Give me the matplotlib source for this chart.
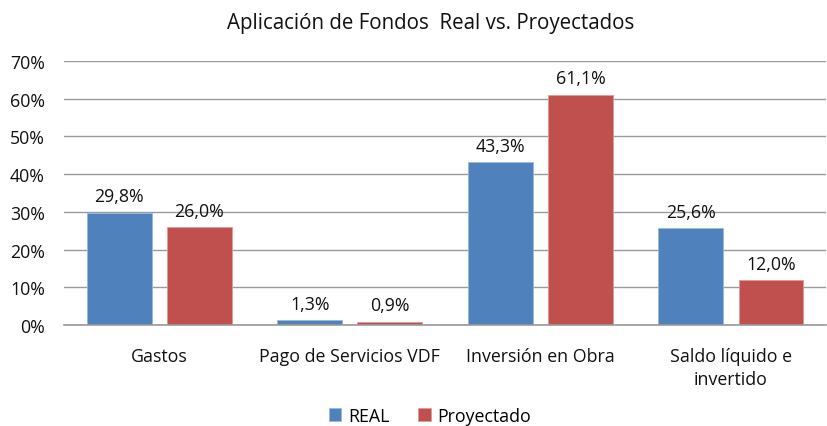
import matplotlib.pyplot as plt
import numpy as np

plt.rcParams['font.family'] = ['Open Sans', 'DejaVu Sans']

categorias = ["Gastos", "Pago de Servicios VDF", "Inversión en Obra", "Saldo líquido e\ninvertido"]
real = [29.8, 1.3, 43.3, 25.6]
proyectado = [26.0, 0.9, 61.1, 12.0]
etiquetas_y = ["0%", "10%", "20%", "30%", "40%", "50%", "60%", "70%"]

azul = "#4F81BD"
rojo = "#C0504D"

fig = plt.figure(figsize=(8.27, 4.27), dpi=100)
ax = fig.add_axes([0.0774, 0.2365, 0.9216, 0.6183])

x = np.arange(len(categorias))
ancho = 0.34
b1 = ax.bar(x - 0.21, real, ancho, color=azul, edgecolor="#9db7dc", linewidth=0.6, label="REAL", zorder=3)
b2 = ax.bar(x + 0.21, proyectado, ancho, color=rojo, edgecolor="#dc9b99", linewidth=0.6, label="Proyectado", zorder=3)

for barras in (b1, b2):
    for b in barras:
        v = b.get_height()
        ax.text(b.get_x() + b.get_width() / 2, v + 1.9, ("%.1f%%" % v).replace(".", ","),
                ha="center", va="bottom", fontsize=12.8, color="#111111")

ax.set_xlim(-0.5, 3.5)
ax.set_ylim(0, 70)
ax.set_yticks(range(0, 71, 10))
ax.set_yticklabels(etiquetas_y)
ax.set_xticks(x)
ax.set_xticklabels(categorias, linespacing=1.35)
ax.tick_params(axis="both", length=0, labelsize=12.8, colors="#111111")
ax.tick_params(axis="x", pad=16)
ax.tick_params(axis="y", pad=13.7)
ax.yaxis.grid(True, color="#9a9a9a", linewidth=1.0, zorder=0)
for s in ["top", "right", "left"]:
    ax.spines[s].set_visible(False)
ax.spines["bottom"].set_color("#9a9a9a")
ax.spines["bottom"].set_linewidth(1.2)
ax.spines["bottom"].set_zorder(4)

fig.text(0.521, 0.945, "Aplicación de Fondos  Real vs. Proyectados", ha="center", va="center",
         fontsize=14.8, color="#111111")

fig.legend(handles=[b1, b2], loc="center", bbox_to_anchor=(0.52, 0.024), ncol=2, frameon=False,
           fontsize=12.8, handlelength=0.7, handleheight=0.7, handletextpad=0.4, columnspacing=1.6)

fig.savefig("out.png", dpi=100)
